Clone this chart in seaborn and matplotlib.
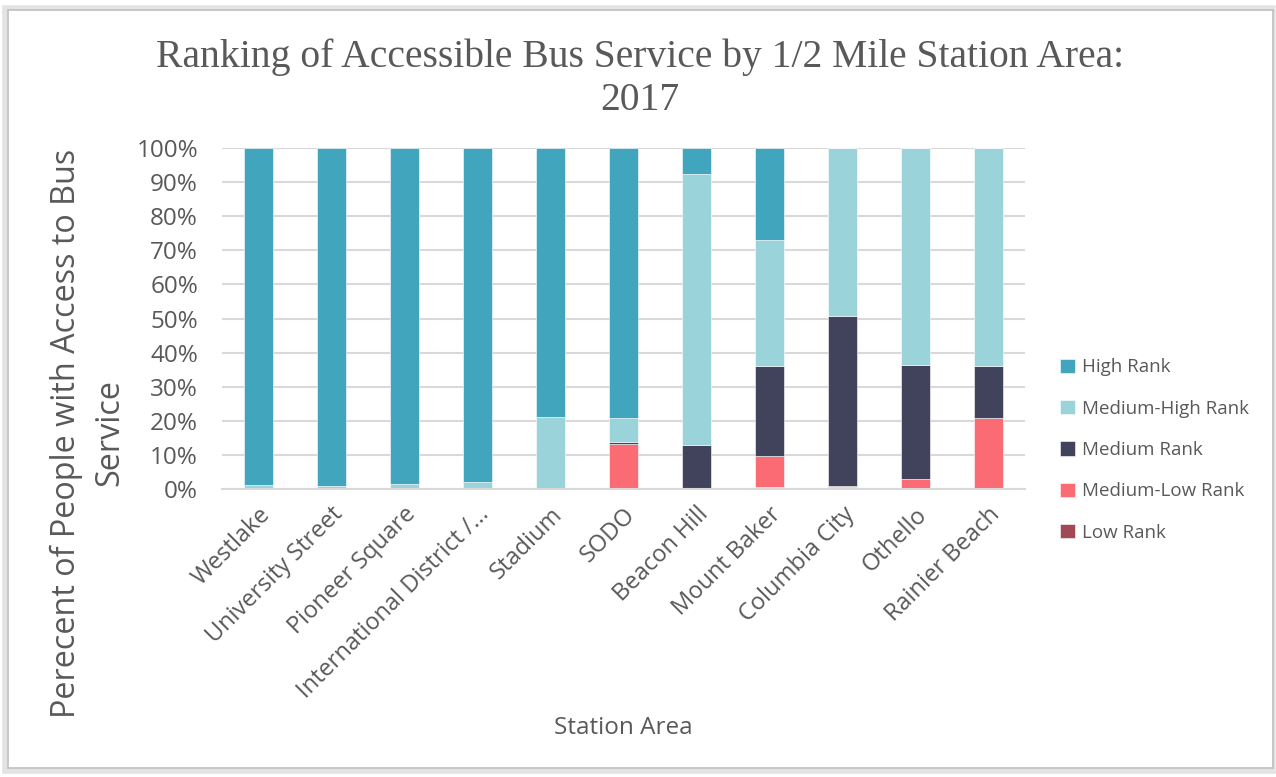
import numpy as np
import pandas as pd
import matplotlib.pyplot as plt
import seaborn as sns
from matplotlib.patches import Rectangle

# Station areas (x axis)
stations = ["Westlake", "University Street", "Pioneer Square", "International District /...",
            "Stadium", "SODO", "Beacon Hill", "Mount Baker", "Columbia City", "Othello",
            "Rainier Beach"]

# Share of people per rank, in percent
high_rank = [98.8, 99.3, 98.7, 98.0, 78.9, 79.2, 7.5, 26.9, 0.0, 0.0, 0.0]
medium_high_rank = [1.2, 0.7, 1.3, 2.0, 20.8, 7.2, 79.7, 37.2, 49.2, 63.6, 63.9]
medium_rank = [0.0, 0.0, 0.0, 0.0, 0.0, 0.4, 12.5, 26.2, 50.0, 33.6, 15.4]
medium_low_rank = [0.0, 0.0, 0.0, 0.0, 0.3, 13.2, 0.0, 9.3, 0.3, 2.8, 20.7]
low_rank = [0.0, 0.0, 0.0, 0.0, 0.0, 0.0, 0.3, 0.4, 0.5, 0.0, 0.0]

rank_names = ["High Rank", "Medium-High Rank", "Medium Rank", "Medium-Low Rank", "Low Rank"]
rank_colors = ["#42a5be", "#9ad4da", "#41435c", "#fb6b74", "#a14a55"]

df = pd.DataFrame({
    "station": stations * 5,
    "rank": np.repeat(rank_names, len(stations)),
    "value": high_rank + medium_high_rank + medium_rank + medium_low_rank + low_rank,
})
df["station"] = pd.Categorical(df["station"], categories=stations, ordered=True)

sns.set_style("white")
plt.rcParams["font.family"] = ["Open Sans", "DejaVu Sans"]
text_color = "#595959"

fig = plt.figure(figsize=(12.76, 7.77), dpi=100)
fig.patch.set_facecolor("white")

# chart frame with a soft shadow
fig.patches.append(Rectangle((5 / 1276, 1 - 771 / 777), 1268 / 1276, 763 / 777,
                             transform=fig.transFigure, facecolor="none",
                             edgecolor="#e3e3e3", linewidth=4, zorder=-10))
fig.patches.append(Rectangle((8 / 1276, 1 - 768 / 777), 1265 / 1276, 758 / 777,
                             transform=fig.transFigure, facecolor="white",
                             edgecolor="#bfbfbf", linewidth=1.2, zorder=-9))

ax = fig.add_axes([221.7 / 1276, 1 - 488.7 / 777, 803 / 1276, 340.4 / 777])
ax.set_zorder(1)
ax.set_facecolor("none")

sns.histplot(data=df, x="station", weights="value", hue="rank", hue_order=rank_names,
             palette=rank_colors, multiple="stack", shrink=0.4, discrete=True,
             alpha=1, edgecolor="white", linewidth=0.4, ax=ax)

ax.set_xlim(-0.5, len(stations) - 0.5)
ax.set_ylim(0, 100)
ax.set_yticks(np.arange(0, 101, 10))
ax.set_yticklabels([f"{v}%" for v in range(0, 101, 10)], fontsize=17.5, color=text_color)
ax.set_xticks(range(len(stations)))
ax.set_xticklabels(stations, rotation=45, ha="right", rotation_mode="anchor",
                   fontsize=17, color=text_color)
ax.tick_params(axis="y", length=0, pad=17)
ax.tick_params(axis="x", length=0, pad=10)
ax.yaxis.grid(True, color="#d9d9d9", linewidth=1.5)
ax.set_axisbelow(True)
for side in ["top", "right", "left"]:
    ax.spines[side].set_visible(False)
ax.spines["bottom"].set_color("#d9d9d9")
ax.spines["bottom"].set_linewidth(1.5)

ax.set_xlabel("")
ax.set_ylabel("")
fig.text(623 / 1276, 1 - 728 / 777, "Station Area", ha="center", va="center",
         fontsize=17.5, color=text_color)
fig.text(88 / 1276, 1 - 433 / 777, "Perecent of People with Access to Bus\nService",
         ha="center", va="center", rotation=90, fontsize=23.3, color=text_color,
         linespacing=1.4)
fig.text(640 / 1276, 1 - 79 / 777,
         "Ranking of Accessible Bus Service by 1/2 Mile Station Area:\n2017",
         ha="center", va="center", fontsize=28.5, color=text_color,
         family=["Liberation Serif", "DejaVu Serif"], linespacing=1.2)

sns.move_legend(ax, "upper left", bbox_to_anchor=(1052 / 1276, 1 - 351 / 777),
                bbox_transform=fig.transFigure, title=None, frameon=False,
                fontsize=13.5, handlelength=0.8, handleheight=0.8, labelspacing=1.24,
                handletextpad=0.4, borderaxespad=0)
for t in ax.get_legend().get_texts():
    t.set_color(text_color)

fig.savefig("out.png", dpi=100, facecolor="white")
